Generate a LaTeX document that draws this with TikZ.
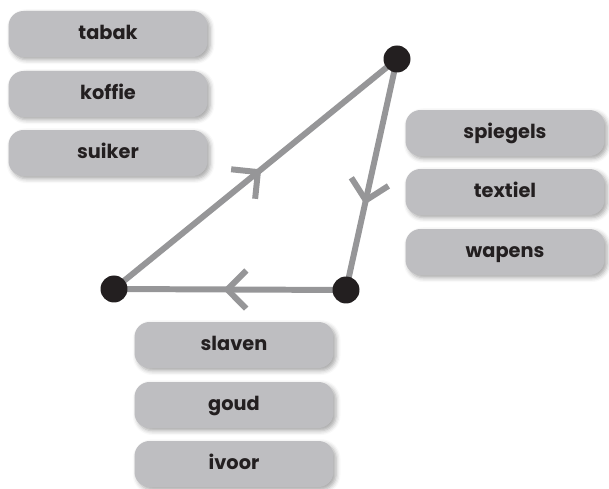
\documentclass[tikz,border=0pt]{standalone}
\usepackage{fontspec}
\setmainfont{Poppins}
\usetikzlibrary{shadows.blur,arrows.meta,decorations.markings}
\definecolor{boxgray}{RGB}{190,190,193}
\definecolor{linegray}{RGB}{150,150,152}
\definecolor{ink}{RGB}{35,31,32}

\begin{document}
\begin{tikzpicture}[x=0.02cm,y=-0.02cm,
  item/.style={rounded corners=0.3cm, fill=boxgray, minimum width=3.98cm, minimum height=0.92cm,
    text=ink, font=\bfseries\fontsize{11}{13}\selectfont, text height=0.86em, text depth=0.22em,
    blur shadow={shadow xshift=1.5pt, shadow yshift=-1.5pt, shadow blur radius=2.5pt, shadow opacity=35}},
  dot/.style={circle, fill=ink, inner sep=0pt, minimum size=0.54cm},
  route/.style={draw=linegray, line width=3.4pt, postaction={decorate}},
  barb/.style={decoration={markings, mark=at position #1 with
    {\arrow[linegray, line width=3.4pt]{Straight Barb[length=0.38cm, width=0.76cm]}}}}]

\useasboundingbox (0,0) rectangle (609,489);

\node[item] (tabak) at (108,34) {tabak};
\node[item] (koffie) at (108,94) {koffie};
\node[item] (suiker) at (108,153) {suiker};

\node[item] (spiegels) at (505,133) {spiegels};
\node[item] (textiel) at (505,192) {textiel};
\node[item] (wapens) at (505,252) {wapens};

\node[item] (slaven) at (234,345) {slaven};
\node[item] (goud) at (234,405) {goud};
\node[item] (ivoor) at (234,464) {ivoor};

\coordinate (amerika) at (114,289);
\coordinate (europa) at (397,59);
\coordinate (afrika) at (346,290);

\draw[route, barb=0.52] (amerika) -- (europa);
\draw[route, barb=0.63] (europa) -- (afrika);
\draw[route, barb=0.53] (afrika) -- (amerika);

\node[dot] at (amerika) {};
\node[dot] at (europa) {};
\node[dot] at (afrika) {};

\end{tikzpicture}
\end{document}
